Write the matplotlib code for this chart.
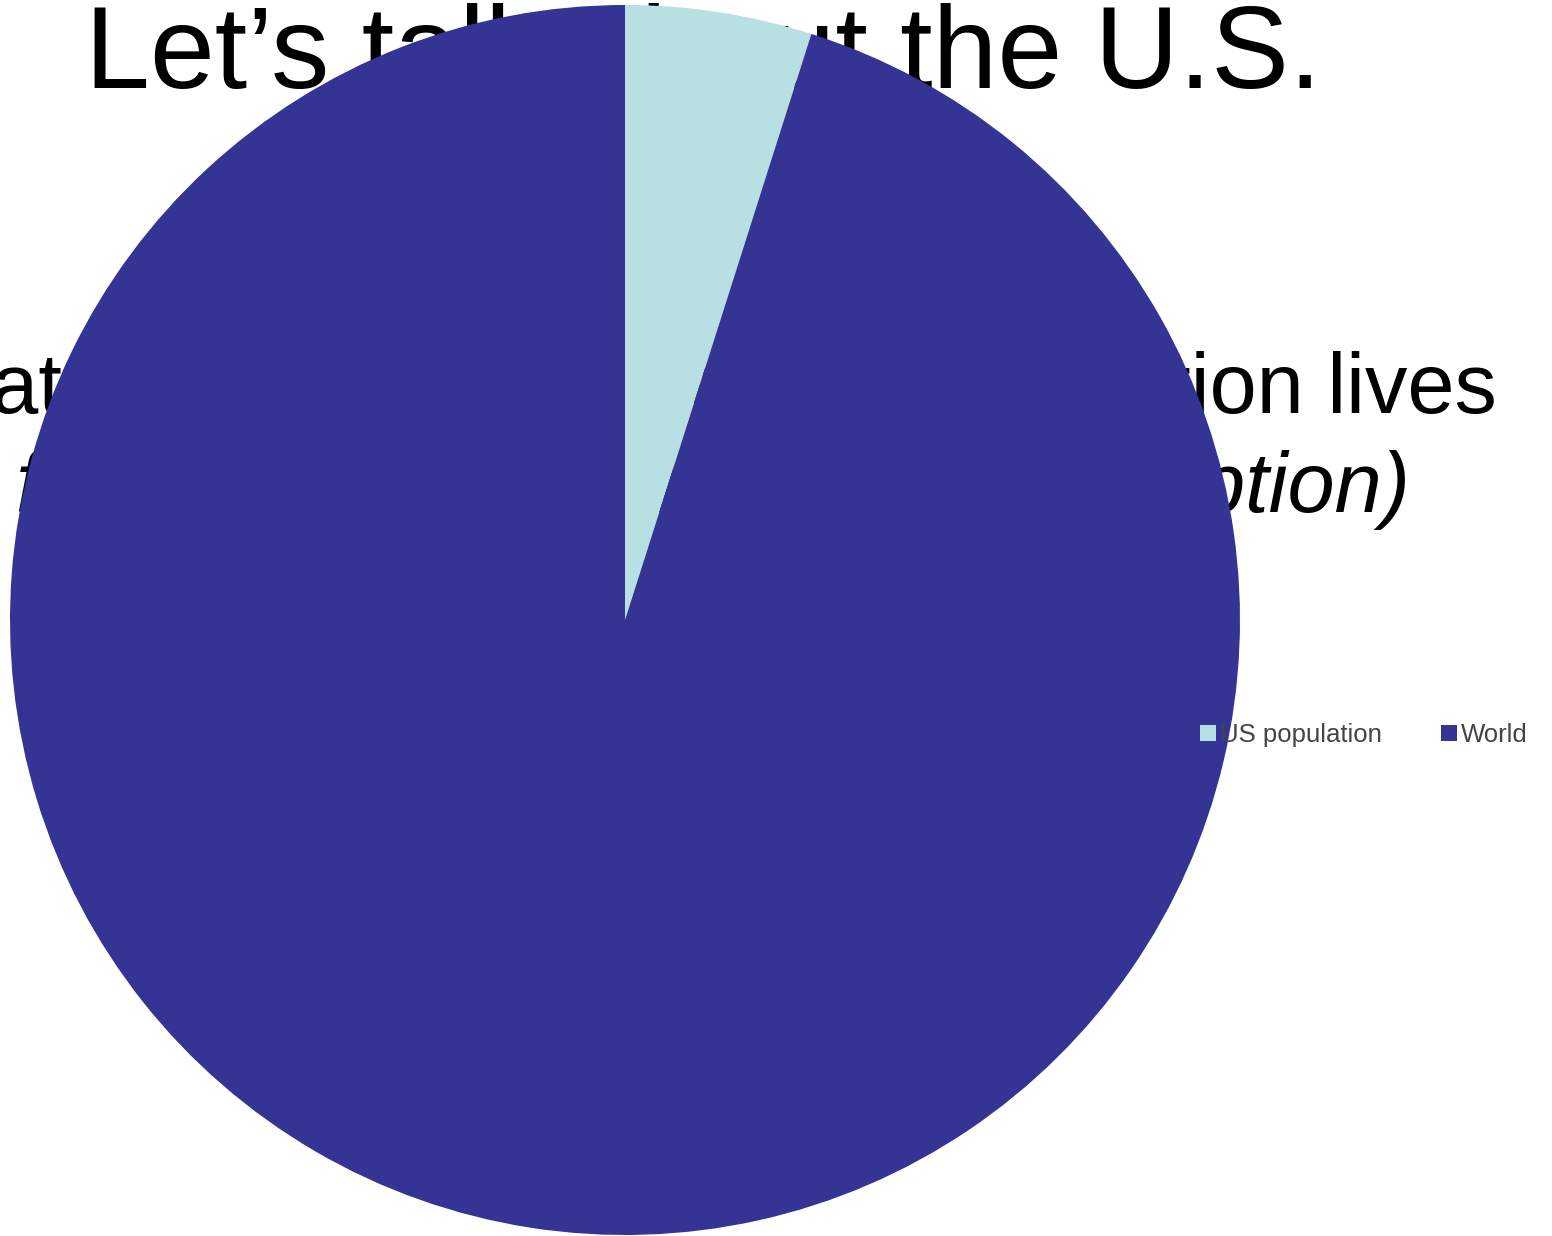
import matplotlib.pyplot as plt

# pie data (share of world population)
labels = ['US population', 'World']
shares = [4.9, 95.1]
colors = ['#b8e0e3', '#343494']

title = 'Let\u2019s talk about the U.S.'
line1 = 'What percent of the world\u2019s population lives'
line2 = 'from the U.S.? (choose which option)'

W, H = 1552, 1236
fig = plt.figure(figsize=(W / 100, H / 100), dpi=100)
fig.patch.set_facecolor('white')

# slide text sits behind the pie
fig.text(85 / W, 1 - 88 / H, title, fontsize=84, family='Liberation Sans',
         ha='left', va='baseline', zorder=-1)
fig.text(1497 / W, 1 - 413 / H, line1, fontsize=61, family='Liberation Sans',
         ha='right', va='baseline', zorder=-1)
fig.text(1410 / W, 1 - 512 / H, line2, fontsize=61, family='Liberation Sans',
         style='italic', ha='right', va='baseline', zorder=-1)

# pie axes: centre (625, 620), radius 615 px
cx, cy, r = 625, 620, 615
ax = fig.add_axes([(cx - r) / W, 1 - (cy + r) / H, 2 * r / W, 2 * r / H])
wedges, _ = ax.pie(shares, colors=colors, startangle=90, counterclock=False,
                   radius=1, wedgeprops=dict(linewidth=0))
ax.set_xlim(-1, 1)
ax.set_ylim(-1, 1)
ax.set_aspect('equal')
ax.axis('off')

leg = fig.legend(wedges, labels, loc='center left',
                 bbox_to_anchor=(1190 / W, 1 - 735 / H), ncol=2, frameon=False,
                 prop={'family': 'Liberation Sans', 'size': 18.5},
                 handlelength=0.62, handleheight=0.62, handletextpad=0.16,
                 columnspacing=2.3, borderaxespad=0)
for t in leg.get_texts():
    t.set_color('#444444')

fig.savefig('out.png', dpi=100)
